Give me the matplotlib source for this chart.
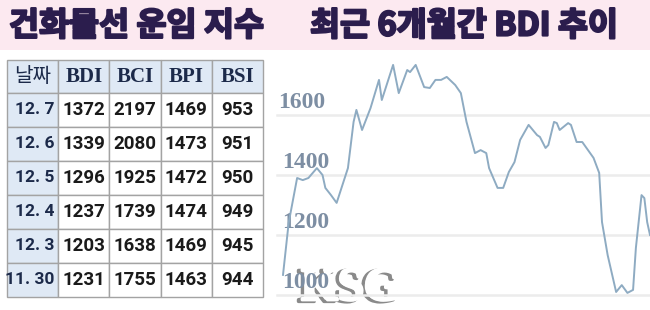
import matplotlib
matplotlib.use("Agg")
import matplotlib.pyplot as plt
import matplotlib.patheffects as pe
from matplotlib.patches import Rectangle

# ---------------- data ----------------
title_left = "건화물선 운임 지수"
title_right = "최근 6개월간 BDI 추이"

table_cols = ["날짜", "BDI", "BCI", "BPI", "BSI"]
dates = ["12. 7", "12. 6", "12. 5", "12. 4", "12. 3", "11. 30"]
bdi = [1372, 1339, 1296, 1237, 1203, 1231]
bci = [2197, 2080, 1925, 1739, 1638, 1755]
bpi = [1469, 1473, 1472, 1474, 1469, 1463]
bsi = [953, 951, 950, 949, 945, 944]

days = [0, 2, 5, 7, 9, 12, 14, 15, 17, 19, 23, 25, 26, 28, 31, 34, 35, 39, 41, 44,
        45, 47, 50, 52, 54, 56, 58, 61, 63, 65, 68, 70, 72, 73, 76, 78, 80, 82, 84, 87,
        90, 91, 93, 94, 96, 97, 98, 101, 102, 104, 106, 110, 112, 113, 115, 118, 120,
        122, 124, 125, 127, 128, 129, 130]
bdi_trend = [1067, 1240, 1390, 1383, 1390, 1423, 1400, 1357, 1333, 1307, 1423, 1577,
             1617, 1550, 1623, 1717, 1650, 1767, 1673, 1750, 1743, 1767, 1693, 1690,
             1717, 1717, 1727, 1700, 1673, 1577, 1473, 1483, 1473, 1423, 1357, 1357,
             1410, 1443, 1517, 1567, 1533, 1527, 1490, 1500, 1577, 1573, 1550, 1573,
             1567, 1510, 1510, 1457, 1407, 1243, 1133, 1010, 1033, 1007, 1017, 1157,
             1333, 1323, 1243, 1200]
y_ticks = [1000, 1200, 1400, 1600]

# ---------------- figure ----------------
W, H = 650, 310
fig = plt.figure(figsize=(6.5, 3.1), dpi=100)
fig.patch.set_facecolor("white")

ov = fig.add_axes([0, 0, 1, 1])
ov.set_xlim(0, W)
ov.set_ylim(H, 0)
ov.axis("off")

# title band
ov.add_patch(Rectangle((0, 0), W, 50, facecolor="#fce9f0", edgecolor="none", zorder=0))
title_color = "#2b1d4d"
bold_fx = [pe.withStroke(linewidth=1.6, foreground=title_color)]
ov.text(9, 26, title_left, fontsize=23.5, fontweight="bold", color=title_color,
        family=["Noto Sans CJK KR", "DejaVu Sans"], va="center", ha="left",
        path_effects=bold_fx)
ov.text(310, 26, title_right, fontsize=23.5, fontweight="bold", color=title_color,
        family=["Noto Sans CJK KR", "DejaVu Sans"], va="center", ha="left",
        path_effects=bold_fx)

# table
x0, col_w = 7, 51.2
y0 = 60
row_h = [33] + [34] * 6
head_bg = "#dfe9f5"
border = "#a3a3a3"
navy = "#1c2a4a"
rows = list(zip(dates, bdi, bci, bpi, bsi))
y = y0
for r in range(7):
    h = row_h[r]
    for c in range(5):
        x = x0 + c * col_w
        bg = head_bg if (r == 0 or c == 0) else "white"
        ov.add_patch(Rectangle((x, y), col_w, h, facecolor=bg, edgecolor=border,
                               linewidth=1.0, zorder=1))
        cx, cy = x + col_w / 2, y + h / 2
        if r == 0:
            if c == 0:
                ov.text(cx, cy, table_cols[c], fontsize=14.5, color=navy,
                        family=["Noto Sans CJK KR"], ha="center", va="center", zorder=2)
            else:
                ov.text(cx, cy + 1, table_cols[c], fontsize=15, fontweight="bold",
                        color=navy, family=["Liberation Serif"], ha="center",
                        va="center", zorder=2)
        else:
            val = rows[r - 1][c]
            if c == 0:
                ov.text(x + col_w - 4, cy, str(val), fontsize=12.5, fontweight="bold",
                        color=navy, family=["Roboto"], ha="right", va="center", zorder=2)
            else:
                ov.text(cx, cy, str(val), fontsize=13.5, fontweight="bold",
                        color="#1a1a1a", family=["Roboto"], ha="center", va="center",
                        zorder=2)
    y += h

# ---------------- line chart ----------------
px_per_day = (650 - 283) / 130.0
left_px, right_px = 275, 650
top_px, bot_px = 55, 305
ymin = 1000 - (bot_px - 295) / 0.3
ymax = 1000 + (295 - top_px) / 0.3
ax = fig.add_axes([left_px / W, (H - bot_px) / H, (right_px - left_px) / W,
                   (bot_px - top_px) / H])
ax.set_xlim(-(283 - left_px) / px_per_day, 130)
ax.set_ylim(ymin, ymax)
ax.patch.set_alpha(0)
for s in ax.spines.values():
    s.set_visible(False)
ax.set_xticks([])
ax.set_yticks([])
for t in y_ticks:
    ax.axhline(t, xmin=0.005, xmax=1, color="#ececec", linewidth=1.8, zorder=1)
    lx = -1.8 if t == 1600 else -0.4
    ax.text(lx, t + 8, str(t), fontsize=17, fontweight="bold",
            color="#7d8ea3", family=["Liberation Serif"], ha="left", va="bottom",
            zorder=2)
ax.plot(days, bdi_trend, color="#8eabc2", linewidth=1.4, zorder=3,
        solid_joinstyle="round")

# watermark
ov.text(351, 300, "KSG", fontsize=34, fontweight="bold", color="white",
        family=["Liberation Serif"], ha="center", va="baseline", zorder=5,
        path_effects=[pe.Stroke(linewidth=2.5, foreground="#8a8a8a", offset=(-2.5, -1)),
                      pe.Stroke(linewidth=2.0, foreground="white"),
                      pe.Normal()])

fig.savefig("out.png", dpi=100)
